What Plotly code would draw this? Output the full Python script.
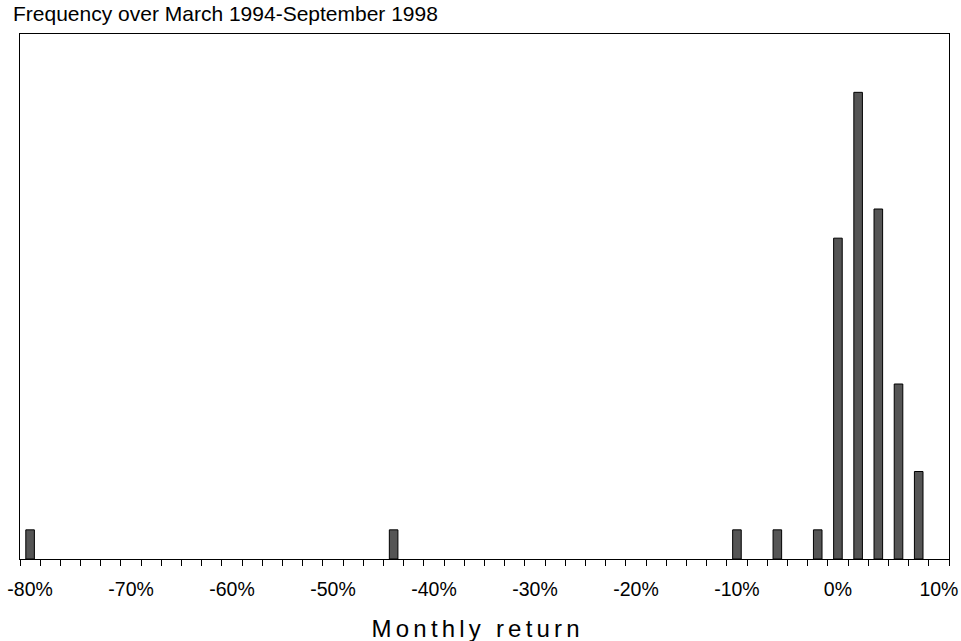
import plotly.graph_objects as go

# Histogram of monthly returns (bin centres in %, counts)
returns = [-80, -44, -10, -6, -2, 0, 2, 4, 6, 8]
counts = [1, 1, 1, 1, 1, 11, 16, 12, 6, 3]

tick_vals = [-80, -70, -60, -50, -40, -30, -20, -10, 0, 10]
tick_text = ['-80%', '-70%', '-60%', '-50%', '-40%', '-30%', '-20%', '-10%', '0%', '10%']

FONT = 'Arial, Liberation Sans, sans-serif'

fig = go.Figure()

fig.add_trace(
    go.Bar(
        x=returns, y=counts,
        width=0.85,
        marker=dict(color='#555555', line=dict(color='black', width=1)),
        hovertemplate='%{x}%: %{y}<extra></extra>'
    )
)

fig.update_layout(
    width=961, height=641,
    margin=dict(l=20, r=12, t=34, b=82, autoexpand=False),
    paper_bgcolor='white',
    plot_bgcolor='white',
    showlegend=False,
    font=dict(family=FONT, color='black'),
    title=dict(
        text='Frequency over March 1994-September 1998',
        font=dict(size=21, family=FONT, color='black'),
        xref='container', x=13 / 961, xanchor='left',
        yref='container', y=1 - 13.3 / 641, yanchor='middle'
    ),
)

# x axis title as an annotation: sits a bit left of the plot centre in the original
fig.add_annotation(
    text='Monthly return',
    xref='paper', yref='paper', x=0.492, y=0,
    xanchor='center', yanchor='middle', yshift=-69,
    showarrow=False,
    font=dict(size=24, family=FONT, color='black'),
)

fig.update_xaxes(
    range=[-81, 11],
    automargin=False,
    tickvals=tick_vals, ticktext=tick_text,
    ticks='', tickfont=dict(size=19.5, family=FONT, color='black'),
    ticklabelstandoff=13,
    minor=dict(ticks='outside', tick0=-81, dtick=2, ticklen=6, tickcolor='black', tickwidth=1, showgrid=False),
    showgrid=False, zeroline=False,
    showline=True, linecolor='black', linewidth=1, mirror=True,
)

fig.update_yaxes(
    range=[0, 18],
    automargin=False,
    showticklabels=False, ticks='',
    showgrid=False, zeroline=False,
    showline=True, linecolor='black', linewidth=1, mirror=True,
)

# page has an 8px body margin by default; drop it, and space out the axis title like the original
post_js = (
    "document.body.style.margin='0';"
    "document.querySelectorAll('.annotation-text').forEach(function(t){t.style.letterSpacing='4.2px';});"
)

fig.write_html("out.html", post_script=post_js, config={'displayModeBar': False})
